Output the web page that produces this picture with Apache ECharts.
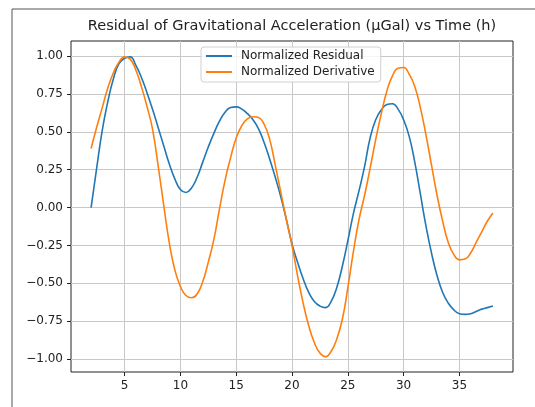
<!DOCTYPE html>
<html>
<head>
<meta charset="utf-8">
<script src="https://cdn.jsdelivr.net/npm/echarts@6/dist/echarts.min.js"></script>
<style>
  html, body { margin: 0; padding: 0; background: #fff; }
  #chart { width: 535px; height: 407px; }
</style>
</head>
<body>
<div id="chart"></div>
<script>
// time (h), every half hour
var hours = [
  2, 2.5, 3, 3.5, 4, 4.5, 5, 5.5, 6, 6.5, 7, 7.5, 8, 8.5, 9, 9.5, 10, 10.5,
  11, 11.5, 12, 12.5, 13, 13.5, 14, 14.5, 15, 15.5, 16, 16.5, 17, 17.5, 18, 18.5,
  19, 19.5, 20, 20.5, 21, 21.5, 22, 22.5, 23, 23.5, 24, 24.5, 25, 25.5, 26, 26.5,
  27, 27.5, 28, 28.5, 29, 29.5, 30, 30.5, 31, 31.5, 32, 32.5, 33, 33.5, 34, 34.5,
  35, 35.5, 36, 36.5, 37, 37.5, 38
]
var residual = [
  0.00, 0.26, 0.51, 0.70, 0.85, 0.95, 0.985, 0.995, 0.94, 0.86, 0.76, 0.65, 0.53, 0.41, 0.29, 0.19, 0.12, 0.10,
  0.13, 0.20, 0.30, 0.40, 0.49, 0.57, 0.63, 0.66, 0.665, 0.65, 0.62, 0.58, 0.52, 0.43, 0.32, 0.20,
  0.07, -0.08, -0.24, -0.36, -0.47, -0.56, -0.62, -0.65, -0.66, -0.62, -0.53, -0.39, -0.22, -0.04, 0.11, 0.27,
  0.46, 0.58, 0.645, 0.68, 0.685, 0.65, 0.58, 0.47, 0.30, 0.09, -0.12, -0.30, -0.45, -0.56, -0.63, -0.675,
  -0.70, -0.705, -0.70, -0.685, -0.67, -0.66, -0.65
]
var derivative = [
  0.39, 0.53, 0.66, 0.79, 0.89, 0.96, 0.995, 0.98, 0.91, 0.80, 0.67, 0.52, 0.28, 0.02, -0.23, -0.41, -0.52, -0.58,
  -0.595, -0.57, -0.49, -0.36, -0.21, -0.01, 0.18, 0.33, 0.46, 0.54, 0.585, 0.60, 0.595, 0.55, 0.45, 0.28,
  0.10, -0.08, -0.25, -0.45, -0.63, -0.78, -0.89, -0.96, -0.985, -0.95, -0.87, -0.74, -0.53, -0.29, -0.08, 0.08,
  0.26, 0.45, 0.62, 0.77, 0.87, 0.92, 0.925, 0.88, 0.80, 0.66, 0.48, 0.28, 0.08, -0.09, -0.23, -0.31,
  -0.345, -0.34, -0.30, -0.23, -0.16, -0.09, -0.035
]
var xTicks = [5, 10, 15, 20, 25, 30, 35]
var yTicks = [-1, -0.75, -0.5, -0.25, 0, 0.25, 0.5, 0.75, 1]

function pairs(xs, ys) {
  return xs.map(function (x, i) { return [x, ys[i]] })
}

var chart = echarts.init(document.getElementById('chart'))
var font = 'DejaVu Sans'

var option = {
  animation: false,
  backgroundColor: '#fff',
  graphic: [
    {
      // figure frame, cut off by the screenshot on the right and bottom
      type: 'rect',
      shape: { x: 12, y: 9, width: 700, height: 600 },
      style: { fill: 'none', stroke: '#555', lineWidth: 1 },
      silent: true,
    },
  ],
  title: {
    text: 'Residual of Gravitational Acceleration (µGal) vs Time (h)',
    left: 292,
    top: 19,
    textAlign: 'center',
    padding: 0,
    textStyle: { fontFamily: font, fontSize: 14.5, fontWeight: 'normal', color: '#222' },
  },
  legend: {
    orient: 'vertical',
    left: 201,
    top: 47,
    padding: [3, 6, 4, 5],
    itemGap: 4,
    itemWidth: 26,
    itemHeight: 2,
    icon: 'rect',
    backgroundColor: 'rgba(255,255,255,0.8)',
    borderColor: '#d0d0d0',
    borderWidth: 1,
    borderRadius: 3,
    textStyle: { fontFamily: font, fontSize: 12, color: '#222', padding: [0, 0, 0, 4] },
    data: ['Normalized Residual', 'Normalized Derivative'],
  },
  grid: {
    left: 71,
    right: 22,
    top: 41,
    bottom: 35,
    show: true,
    borderColor: '#222',
    borderWidth: 1,
    containLabel: false,
  },
  xAxis: {
    type: 'value',
    min: 0.2,
    max: 39.8,
    axisLine: { show: false, onZero: false },
    axisTick: { show: true, inside: false, length: 4, lineStyle: { color: '#222' }, customValues: xTicks },
    axisLabel: {
      customValues: xTicks,
      margin: 8,
      fontFamily: font,
      fontSize: 12,
      color: '#222',
    },
    splitLine: { show: true, lineStyle: { color: '#c8c8c8', width: 1 } },
  },
  yAxis: {
    type: 'value',
    min: -1.085,
    max: 1.0995,
    axisLine: { show: false, onZero: false },
    axisTick: { show: true, inside: false, length: 4, lineStyle: { color: '#222' }, customValues: yTicks },
    axisLabel: {
      customValues: yTicks,
      margin: 8,
      fontFamily: font,
      fontSize: 12,
      color: '#222',
      formatter: function (v) {
        return v.toFixed(2).replace('-', '\u2212')
      },
    },
    splitLine: { show: true, lineStyle: { color: '#c8c8c8', width: 1 } },
  },
  series: [
    {
      name: 'Normalized Residual',
      type: 'line',
      data: pairs(hours, residual),
      smooth: 0.5,
      showSymbol: false,
      lineStyle: { color: '#1f77b4', width: 1.6 },
      itemStyle: { color: '#1f77b4' },
      z: 3,
    },
    {
      name: 'Normalized Derivative',
      type: 'line',
      data: pairs(hours, derivative),
      smooth: 0.5,
      showSymbol: false,
      lineStyle: { color: '#ff7f0e', width: 1.6 },
      itemStyle: { color: '#ff7f0e' },
      z: 4,
    },
  ],
}

chart.setOption(option)
</script>
</body>
</html>
